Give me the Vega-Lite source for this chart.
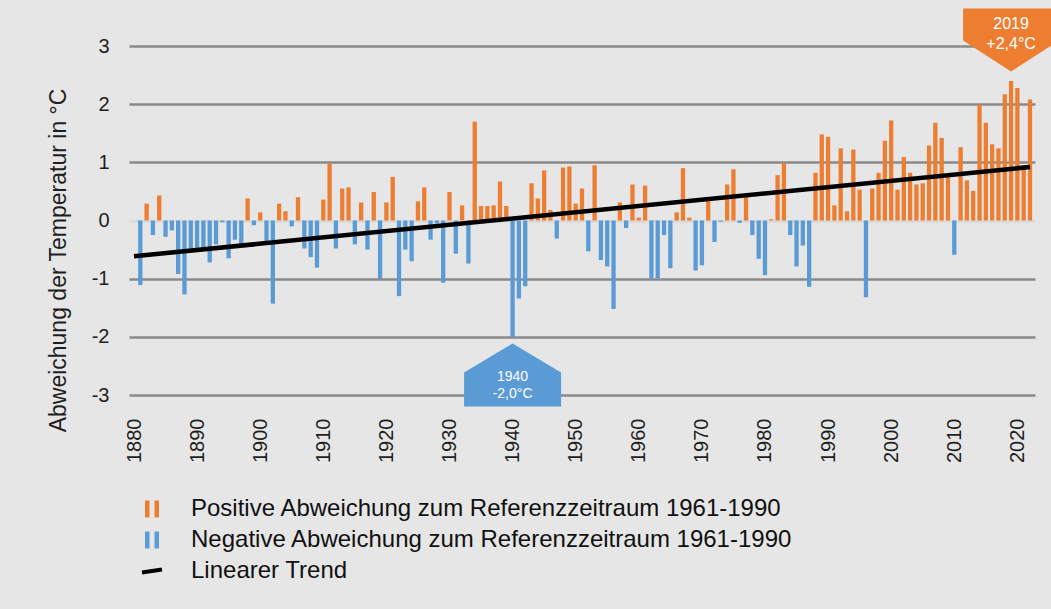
{
  "$schema": "https://vega.github.io/schema/vega-lite/v6.json",
  "width": 906,
  "height": 349,
  "autosize": "none",
  "padding": {"left": 129, "top": 46, "right": 16, "bottom": 214},
  "background": "#e6e6e6",
  "config": {"view": {"stroke": null}, "font": "Liberation Sans"},
  "datasets": {
    "anomalies": [
      {"year": 1881, "value": -1.11, "s": "neg"}, {"year": 1882, "value": 0.29, "s": "pos"},
      {"year": 1883, "value": -0.25, "s": "neg"}, {"year": 1884, "value": 0.43, "s": "pos"},
      {"year": 1885, "value": -0.28, "s": "neg"}, {"year": 1886, "value": -0.17, "s": "neg"},
      {"year": 1887, "value": -0.92, "s": "neg"}, {"year": 1888, "value": -1.27, "s": "neg"},
      {"year": 1889, "value": -0.5, "s": "neg"}, {"year": 1890, "value": -0.54, "s": "neg"},
      {"year": 1891, "value": -0.52, "s": "neg"}, {"year": 1892, "value": -0.72, "s": "neg"},
      {"year": 1893, "value": -0.41, "s": "neg"}, {"year": 1894, "value": -0.03, "s": "neg"},
      {"year": 1895, "value": -0.65, "s": "neg"}, {"year": 1896, "value": -0.33, "s": "neg"},
      {"year": 1897, "value": -0.4, "s": "neg"}, {"year": 1898, "value": 0.38, "s": "pos"},
      {"year": 1899, "value": -0.08, "s": "neg"}, {"year": 1900, "value": 0.14, "s": "pos"},
      {"year": 1901, "value": -0.4, "s": "neg"}, {"year": 1902, "value": -1.43, "s": "neg"},
      {"year": 1903, "value": 0.29, "s": "pos"}, {"year": 1904, "value": 0.16, "s": "pos"},
      {"year": 1905, "value": -0.1, "s": "neg"}, {"year": 1906, "value": 0.4, "s": "pos"},
      {"year": 1907, "value": -0.48, "s": "neg"}, {"year": 1908, "value": -0.63, "s": "neg"},
      {"year": 1909, "value": -0.81, "s": "neg"}, {"year": 1910, "value": 0.36, "s": "pos"},
      {"year": 1911, "value": 0.98, "s": "pos"}, {"year": 1912, "value": -0.48, "s": "neg"},
      {"year": 1913, "value": 0.55, "s": "pos"}, {"year": 1914, "value": 0.57, "s": "pos"},
      {"year": 1915, "value": -0.41, "s": "neg"}, {"year": 1916, "value": 0.31, "s": "pos"},
      {"year": 1917, "value": -0.5, "s": "neg"}, {"year": 1918, "value": 0.49, "s": "pos"},
      {"year": 1919, "value": -1.01, "s": "neg"}, {"year": 1920, "value": 0.31, "s": "pos"},
      {"year": 1921, "value": 0.75, "s": "pos"}, {"year": 1922, "value": -1.3, "s": "neg"},
      {"year": 1923, "value": -0.5, "s": "neg"}, {"year": 1924, "value": -0.7, "s": "neg"},
      {"year": 1925, "value": 0.33, "s": "pos"}, {"year": 1926, "value": 0.57, "s": "pos"},
      {"year": 1927, "value": -0.33, "s": "neg"}, {"year": 1928, "value": -0.05, "s": "neg"},
      {"year": 1929, "value": -1.07, "s": "neg"}, {"year": 1930, "value": 0.49, "s": "pos"},
      {"year": 1931, "value": -0.57, "s": "neg"}, {"year": 1932, "value": 0.26, "s": "pos"},
      {"year": 1933, "value": -0.74, "s": "neg"}, {"year": 1934, "value": 1.7, "s": "pos"},
      {"year": 1935, "value": 0.25, "s": "pos"}, {"year": 1936, "value": 0.25, "s": "pos"},
      {"year": 1937, "value": 0.26, "s": "pos"}, {"year": 1938, "value": 0.67, "s": "pos"},
      {"year": 1939, "value": 0.25, "s": "pos"}, {"year": 1940, "value": -2.0, "s": "neg"},
      {"year": 1941, "value": -1.34, "s": "neg"}, {"year": 1942, "value": -1.13, "s": "neg"},
      {"year": 1943, "value": 0.64, "s": "pos"}, {"year": 1944, "value": 0.38, "s": "pos"},
      {"year": 1945, "value": 0.86, "s": "pos"}, {"year": 1946, "value": 0.18, "s": "pos"},
      {"year": 1947, "value": -0.31, "s": "neg"}, {"year": 1948, "value": 0.91, "s": "pos"},
      {"year": 1949, "value": 0.93, "s": "pos"}, {"year": 1950, "value": 0.29, "s": "pos"},
      {"year": 1951, "value": 0.55, "s": "pos"}, {"year": 1952, "value": -0.53, "s": "neg"},
      {"year": 1953, "value": 0.95, "s": "pos"}, {"year": 1954, "value": -0.68, "s": "neg"},
      {"year": 1955, "value": -0.79, "s": "neg"}, {"year": 1956, "value": -1.52, "s": "neg"},
      {"year": 1957, "value": 0.31, "s": "pos"}, {"year": 1958, "value": -0.13, "s": "neg"},
      {"year": 1959, "value": 0.62, "s": "pos"}, {"year": 1960, "value": 0.05, "s": "pos"},
      {"year": 1961, "value": 0.6, "s": "pos"}, {"year": 1962, "value": -1.0, "s": "neg"},
      {"year": 1963, "value": -1.0, "s": "neg"}, {"year": 1964, "value": -0.25, "s": "neg"},
      {"year": 1965, "value": -0.82, "s": "neg"}, {"year": 1966, "value": 0.14, "s": "pos"},
      {"year": 1967, "value": 0.9, "s": "pos"}, {"year": 1968, "value": 0.05, "s": "pos"},
      {"year": 1969, "value": -0.86, "s": "neg"}, {"year": 1970, "value": -0.77, "s": "neg"},
      {"year": 1971, "value": 0.36, "s": "pos"}, {"year": 1972, "value": -0.37, "s": "neg"},
      {"year": 1973, "value": -0.02, "s": "neg"}, {"year": 1974, "value": 0.62, "s": "pos"},
      {"year": 1975, "value": 0.88, "s": "pos"}, {"year": 1976, "value": -0.04, "s": "neg"},
      {"year": 1977, "value": 0.41, "s": "pos"}, {"year": 1978, "value": -0.25, "s": "neg"},
      {"year": 1979, "value": -0.66, "s": "neg"}, {"year": 1980, "value": -0.94, "s": "neg"},
      {"year": 1981, "value": 0.02, "s": "pos"}, {"year": 1982, "value": 0.78, "s": "pos"},
      {"year": 1983, "value": 0.99, "s": "pos"}, {"year": 1984, "value": -0.25, "s": "neg"},
      {"year": 1985, "value": -0.79, "s": "neg"}, {"year": 1986, "value": -0.43, "s": "neg"},
      {"year": 1987, "value": -1.14, "s": "neg"}, {"year": 1988, "value": 0.82, "s": "pos"},
      {"year": 1989, "value": 1.48, "s": "pos"}, {"year": 1990, "value": 1.44, "s": "pos"},
      {"year": 1991, "value": 0.26, "s": "pos"}, {"year": 1992, "value": 1.24, "s": "pos"},
      {"year": 1993, "value": 0.16, "s": "pos"}, {"year": 1994, "value": 1.22, "s": "pos"},
      {"year": 1995, "value": 0.53, "s": "pos"}, {"year": 1996, "value": -1.32, "s": "neg"},
      {"year": 1997, "value": 0.55, "s": "pos"}, {"year": 1998, "value": 0.82, "s": "pos"},
      {"year": 1999, "value": 1.37, "s": "pos"}, {"year": 2000, "value": 1.72, "s": "pos"},
      {"year": 2001, "value": 0.53, "s": "pos"}, {"year": 2002, "value": 1.09, "s": "pos"},
      {"year": 2003, "value": 0.82, "s": "pos"}, {"year": 2004, "value": 0.62, "s": "pos"},
      {"year": 2005, "value": 0.64, "s": "pos"}, {"year": 2006, "value": 1.29, "s": "pos"},
      {"year": 2007, "value": 1.68, "s": "pos"}, {"year": 2008, "value": 1.42, "s": "pos"},
      {"year": 2009, "value": 0.75, "s": "pos"}, {"year": 2010, "value": -0.59, "s": "neg"},
      {"year": 2011, "value": 1.26, "s": "pos"}, {"year": 2012, "value": 0.69, "s": "pos"},
      {"year": 2013, "value": 0.51, "s": "pos"}, {"year": 2014, "value": 1.99, "s": "pos"},
      {"year": 2015, "value": 1.68, "s": "pos"}, {"year": 2016, "value": 1.31, "s": "pos"},
      {"year": 2017, "value": 1.24, "s": "pos"}, {"year": 2018, "value": 2.17, "s": "pos"},
      {"year": 2019, "value": 2.4, "s": "pos"}, {"year": 2020, "value": 2.28, "s": "pos"},
      {"year": 2021, "value": 0.95, "s": "pos"}, {"year": 2022, "value": 2.08, "s": "pos"}
    ],
    "trend": [
      {"year": 1880, "value": -0.615, "s": "trend"},
      {"year": 2022, "value": 0.92, "s": "trend"}
    ]
  },
  "layer": [
    {
      "data": {"name": "anomalies"},
      "mark": {"type": "bar", "size": 4.3, "clip": true},
      "encoding": {
        "x": {
          "field": "year", "type": "quantitative",
          "scale": {"domain": [1880, 2022], "nice": false, "zero": false},
          "axis": {
            "values": [1880, 1890, 1900, 1910, 1920, 1930, 1940, 1950, 1960, 1970, 1980, 1990, 2000, 2010, 2020],
            "labelAngle": -90, "labelFontSize": 20, "labelPadding": 23, "ticks": false, "tickSize": 0, "domain": false,
            "grid": false, "title": null, "labelColor": "#1e1e1e", "labelExpr": "'' + datum.value",
            "labelFlush": false, "labelOverlap": false, "labelBound": false
          }
        },
        "y": {
          "field": "value", "type": "quantitative",
          "scale": {"domain": [-3, 3], "nice": false},
          "axis": {
            "values": [-3, -2, -1, 0, 1, 2, 3],
            "labelFontSize": 20, "labelPadding": 20, "ticks": false, "domain": false, "grid": true,
            "gridColor": {"condition": {"test": "datum.value === 0", "value": "#d9d9d9"}, "value": "#8a8a8a"},
            "gridWidth": 2.3, "gridOpacity": 1,
            "labelColor": "#1e1e1e", "labelExpr": "'' + datum.value", "labelFlush": false,
            "title": "Abweichung der Temperatur in °C", "titleFontSize": 23, "titleFontWeight": "normal",
            "titleColor": "#1e1e1e", "titleX": -71, "titleY": 214, "titleAngle": 270,
            "titleAlign": "center", "titleBaseline": "middle"
          }
        },
        "y2": {"datum": 0},
        "color": {
          "field": "s", "type": "nominal",
          "scale": {"domain": ["pos", "neg", "trend"], "range": ["#ed7d31", "#5b9bd5", "#000000"]},
          "legend": {
            "orient": "none", "legendX": 11, "legendY": 451, "title": null, "direction": "vertical",
            "labelFontSize": 24, "labelLimit": 1000, "labelColor": "#111111", "symbolSize": 400,
            "labelOffset": 27, "rowPadding": 7, "padding": 0,
            "symbolType": "M-0.7,-0.85L-0.25,-0.85L-0.25,0.85L-0.7,0.85Z M0.25,-0.85L0.7,-0.85L0.7,0.85L0.25,0.85Z",
            "labelExpr": "datum.value === 'pos' ? 'Positive Abweichung zum Referenzzeitraum 1961-1990' : datum.value === 'neg' ? 'Negative Abweichung zum Referenzzeitraum 1961-1990' : 'Linearer Trend'",
            "encode": {
              "symbols": {
                "update": {
                  "shape": {"signal": "datum.value === 'trend' ? 'M-1,0.15L1,-0.15' : 'M-0.7,-0.85L-0.25,-0.85L-0.25,0.85L-0.7,0.85Z M0.25,-0.85L0.7,-0.85L0.7,0.85L0.25,0.85Z'"},
                  "fill": {"signal": "datum.value === 'pos' ? '#ed7d31' : datum.value === 'neg' ? '#5b9bd5' : 'transparent'"},
                  "stroke": {"signal": "datum.value === 'trend' ? '#000000' : 'transparent'"},
                  "strokeWidth": {"signal": "datum.value === 'trend' ? 4 : 0"},
                  "opacity": {"value": 1}
                }
              }
            }
          }
        }
      }
    },
    {
      "mark": {"type": "rule", "color": "#d9d9d9", "strokeWidth": 2.5},
      "encoding": {"y": {"datum": 0}}
    },
    {
      "data": {"name": "trend"},
      "mark": {"type": "line", "strokeWidth": 4.5},
      "encoding": {
        "x": {"field": "year", "type": "quantitative"},
        "y": {"field": "value", "type": "quantitative"},
        "color": {"field": "s", "type": "nominal"}
      }
    },
    {
      "data": {"values": [{"year": 1940, "value": -2.0}]},
      "mark": {
        "type": "point", "filled": true, "opacity": 1, "color": "#5b9bd5", "size": 9409, "strokeWidth": 0,
        "shape": "M-1,0.734L0,0.136L1,0.734L1,1.435L-1,1.435Z"
      },
      "encoding": {
        "x": {"field": "year", "type": "quantitative"},
        "y": {"field": "value", "type": "quantitative"}
      }
    },
    {
      "data": {"values": [{"year": 2019, "value": 2.4}]},
      "mark": {
        "type": "point", "filled": true, "opacity": 1, "color": "#ed7d31", "size": 9216, "strokeWidth": 0,
        "shape": "M-1,-1.508L1,-1.508L1,-0.842L0,-0.196L-1,-0.842Z"
      },
      "encoding": {
        "x": {"field": "year", "type": "quantitative"},
        "y": {"field": "value", "type": "quantitative"}
      }
    },
    {
      "data": {"values": [{"year": 1940, "value": -2.0, "label": "1940\n-2,0°C"}]},
      "mark": {
        "type": "text", "color": "#ffffff", "fontSize": 14, "lineHeight": 17, "lineBreak": "\n",
        "align": "center", "baseline": "middle", "dy": 40
      },
      "encoding": {
        "x": {"field": "year", "type": "quantitative"},
        "y": {"field": "value", "type": "quantitative"},
        "text": {"field": "label"}
      }
    },
    {
      "data": {"values": [{"year": 2019, "value": 2.4, "label": "2019\n+2,4°C"}]},
      "mark": {
        "type": "text", "color": "#ffffff", "fontSize": 16, "lineHeight": 20, "lineBreak": "\n",
        "align": "center", "baseline": "middle", "dy": -57
      },
      "encoding": {
        "x": {"field": "year", "type": "quantitative"},
        "y": {"field": "value", "type": "quantitative"},
        "text": {"field": "label"}
      }
    }
  ]
}
